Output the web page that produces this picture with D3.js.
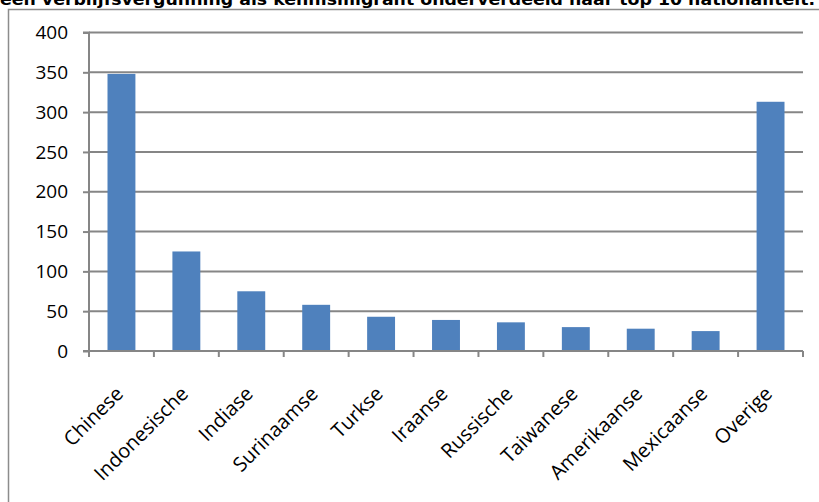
<!DOCTYPE html>
<html><head><meta charset="utf-8">
<script src="https://cdn.jsdelivr.net/npm/d3@7/dist/d3.min.js"></script>
<style>body{margin:0;background:#fff}svg{display:block}</style>
</head><body>
<script>
const title = "een verblijfsvergunning als kennismigrant onderverdeeld naar top 10 nationaliteit.";
const categories = ["Chinese","Indonesische","Indiase","Surinaamse","Turkse","Iraanse","Russische","Taiwanese","Amerikaanse","Mexicaanse","Overige"];
const values = [348,125,75,58,43,39,36,30,28,25,313];
const yTicks = [0,50,100,150,200,250,300,350,400];

const W = 819, H = 502;
const svg = d3.select("body").append("svg").attr("width", W).attr("height", H);

// frame
svg.append("path").attr("d", `M8.5,${H+2}V9.5H${W+2}`).attr("fill","none").attr("stroke","#8c8c8c").attr("stroke-width",1.5);

// title (clipped at top, as in the source image)
svg.append("text").attr("x", 0).attr("y", 5).attr("font-family","DejaVu Sans, Verdana").attr("font-weight","bold")
  .attr("font-size", 15).attr("textLength", 815).attr("lengthAdjust","spacingAndGlyphs").attr("fill","#000").text(title);

const x0 = 89, x1 = 803, yTop = 32.5, yBot = 351;
const x = d3.scaleBand().domain(categories).range([x0, x1]).paddingInner(0.57).paddingOuter(0.285);
const y = d3.scaleLinear().domain([0, 400]).range([yBot, yTop]);

// gridlines
svg.append("g").selectAll("line").data(yTicks.filter(d => d > 0)).join("line")
  .attr("x1", x0).attr("x2", x1).attr("y1", d => y(d)).attr("y2", d => y(d))
  .attr("stroke", "#868686").attr("stroke-width", 2);

// bars
svg.append("g").selectAll("rect").data(values).join("rect")
  .attr("x", (d, i) => x(categories[i])).attr("width", x.bandwidth())
  .attr("y", d => y(d)).attr("height", d => yBot - y(d)).attr("fill", "#4f81bd");

// y axis
const yAxis = svg.append("g").attr("transform", `translate(${x0},0)`)
  .call(d3.axisLeft(y).tickValues(yTicks).tickSize(6).tickPadding(15));
yAxis.select(".domain").attr("stroke","#868686").attr("stroke-width",2).attr("d", `M-6,${yTop}H0V${yBot}H-6`);
yAxis.selectAll(".tick line").attr("stroke","#868686").attr("stroke-width",2);
yAxis.selectAll(".tick text").attr("font-family","Open Sans").attr("font-size",19).attr("fill","#000");

// x axis
const step = (x1 - x0) / categories.length;
const xAxis = svg.append("g").attr("transform", `translate(0,${yBot})`);
xAxis.append("line").attr("x1", x0).attr("x2", x1).attr("stroke","#868686").attr("stroke-width",2);
xAxis.selectAll(".xt").data(d3.range(categories.length + 1)).join("line").attr("class","xt")
  .attr("x1", i => x0 + i * step).attr("x2", i => x0 + i * step).attr("y1", 0).attr("y2", 6)
  .attr("stroke","#868686").attr("stroke-width",2);
xAxis.selectAll("text").data(categories).join("text")
  .attr("transform", d => `translate(${x(d) + x.bandwidth()/2 + 3},${44}) rotate(-45)`)
  .attr("text-anchor","end").attr("font-family","Open Sans").attr("font-size",20).attr("fill","#000")
  .text(d => d);
</script>
</body></html>
